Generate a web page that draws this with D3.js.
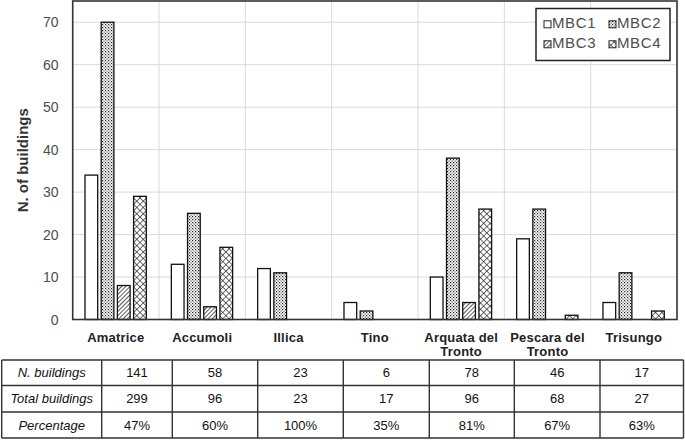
<!DOCTYPE html>
<html>
<head>
<meta charset="utf-8">
<script src="https://cdn.jsdelivr.net/npm/d3@7"></script>
<style>
  body { margin: 0; background: #fff; }
  svg { display: block; font-family: "Liberation Sans", Arial, sans-serif; }
</style>
</head>
<body>
<svg width="685" height="440"></svg>
<script>
var categories = ["Amatrice", "Accumoli", "Illica", "Tino", "Arquata del Tronto", "Pescara del Tronto", "Trisungo"];
var series = ["MBC1", "MBC2", "MBC3", "MBC4"];
var mbc1 = [34, 13, 12, 4, 10, 19, 4];
var mbc2 = [70, 25, 11, 2, 38, 26, 11];
var mbc3 = [8, 3, 0, 0, 4, 0, 0];
var mbc4 = [29, 17, 0, 0, 26, 1, 2];
var yTicks = [0, 10, 20, 30, 40, 50, 60, 70];

var rowLabels = ["N. buildings", "Total buildings", "Percentage"];
var nBuildings = ["141", "58", "23", "6", "78", "46", "17"];
var totalBuildings = ["299", "96", "23", "17", "96", "68", "27"];
var percentage = ["47%", "60%", "100%", "35%", "81%", "67%", "63%"];

var values = [mbc1, mbc2, mbc3, mbc4];

var svg = d3.select("svg");
var defs = svg.append("defs");

// fill patterns
var p2 = defs.append("pattern").attr("id", "pat2").attr("patternUnits", "userSpaceOnUse")
    .attr("width", 3).attr("height", 3);
p2.append("rect").attr("width", 3).attr("height", 3).attr("fill", "#fff");
p2.append("rect").attr("x", 0).attr("y", 0).attr("width", 1.2).attr("height", 1.2).attr("fill", "#222");
p2.append("rect").attr("x", 1.5).attr("y", 1.5).attr("width", 1.2).attr("height", 1.2).attr("fill", "#555");

var p3 = defs.append("pattern").attr("id", "pat3").attr("patternUnits", "userSpaceOnUse")
    .attr("width", 3).attr("height", 3).attr("patternTransform", "rotate(45)");
p3.append("rect").attr("width", 3).attr("height", 3).attr("fill", "#fff");
p3.append("line").attr("x1", 0).attr("y1", 0).attr("x2", 0).attr("y2", 3)
    .attr("stroke", "#333").attr("stroke-width", 1.6);

var p4 = defs.append("pattern").attr("id", "pat4").attr("patternUnits", "userSpaceOnUse")
    .attr("width", 4.5).attr("height", 4.5).attr("patternTransform", "rotate(45)");
p4.append("rect").attr("width", 4.5).attr("height", 4.5).attr("fill", "#fff");
p4.append("line").attr("x1", 0).attr("y1", 0).attr("x2", 0).attr("y2", 4.5)
    .attr("stroke", "#222").attr("stroke-width", 1.3);
p4.append("line").attr("x1", 0).attr("y1", 0).attr("x2", 4.5).attr("y2", 0)
    .attr("stroke", "#222").attr("stroke-width", 1.3);

var fills = ["#fff", "url(#pat2)", "url(#pat3)", "url(#pat4)"];

var plotLeft = 72.7, plotRight = 677, plotTop = 1, plotBottom = 319.5;

var x0 = d3.scaleBand().domain(categories).range([plotLeft, plotRight]);
var x1 = d3.scaleBand().domain(series).range([12.3, 73.6]).paddingInner(0.216);
var y = d3.scaleLinear().domain([0, 75]).range([plotBottom, plotTop]);

// grid
svg.append("g").selectAll("line").data(yTicks).enter().append("line")
    .attr("x1", plotLeft).attr("x2", plotRight)
    .attr("y1", function(d) { return y(d); })
    .attr("y2", function(d) { return y(d); })
    .attr("stroke", "#d9d9d9").attr("stroke-width", 1);

svg.append("g").selectAll("line").data(categories.slice(1)).enter().append("line")
    .attr("x1", function(d) { return x0(d); })
    .attr("x2", function(d) { return x0(d); })
    .attr("y1", plotTop).attr("y2", plotBottom)
    .attr("stroke", "#d9d9d9").attr("stroke-width", 1);

// bars
var barData = [];
categories.forEach(function(c, i) {
    series.forEach(function(s, j) {
        if (values[j][i] > 0) barData.push({ cat: c, s: s, j: j, v: values[j][i] });
    });
});

svg.append("g").selectAll("rect").data(barData).enter().append("rect")
    .attr("x", function(d) { return x0(d.cat) + x1(d.s); })
    .attr("y", function(d) { return y(d.v); })
    .attr("width", x1.bandwidth())
    .attr("height", function(d) { return plotBottom - y(d.v); })
    .attr("fill", function(d) { return fills[d.j]; })
    .attr("stroke", "#111").attr("stroke-width", 1.3);

// frame
svg.append("rect").attr("x", plotLeft).attr("y", plotTop)
    .attr("width", plotRight - plotLeft).attr("height", plotBottom - plotTop)
    .attr("fill", "none").attr("stroke", "#333").attr("stroke-width", 1.6);

// y tick labels
svg.append("g").selectAll("text").data(yTicks).enter().append("text")
    .attr("x", 58.5)
    .attr("y", function(d) { return y(d) + 5; })
    .attr("text-anchor", "end")
    .attr("font-size", 14).attr("fill", "#4d4d4d")
    .text(function(d) { return d; });

svg.append("text")
    .attr("transform", "translate(28," + ((plotTop + plotBottom) / 2) + ") rotate(-90)")
    .attr("text-anchor", "middle")
    .attr("font-size", 15).attr("font-weight", "bold").attr("fill", "#333")
    .text("N. of buildings");

// category labels
var catLabels = svg.append("g").selectAll("text").data(categories).enter().append("text")
    .attr("text-anchor", "middle")
    .attr("font-size", 13).attr("font-weight", "bold").attr("fill", "#222")
    .attr("letter-spacing", 0.2);
catLabels.each(function(d) {
    var words = d.split(" ");
    var lines = words.length > 2 ? [words.slice(0, -1).join(" "), words[words.length - 1]] : [d];
    var t = d3.select(this);
    lines.forEach(function(l, k) {
        t.append("tspan")
            .attr("x", x0(d) + x0.bandwidth() / 2)
            .attr("y", 342 + k * 14)
            .text(l);
    });
});

// legend
var lg = svg.append("g");
lg.append("rect").attr("x", 536).attr("y", 8.5).attr("width", 134).attr("height", 52)
    .attr("fill", "#fff").attr("stroke", "#222").attr("stroke-width", 1.5);
series.forEach(function(s, j) {
    var lx = 544 + (j % 2) * 65;
    var ly = 28.3 + Math.floor(j / 2) * 20;
    lg.append("rect").attr("x", lx).attr("y", ly - 7.5).attr("width", 7).attr("height", 7)
        .attr("fill", fills[j]).attr("stroke", "#222").attr("stroke-width", 1);
    lg.append("text").attr("x", lx + 8).attr("y", ly)
        .attr("font-size", 15).attr("fill", "#4d4d4d").attr("letter-spacing", 0.6)
        .text(s);
});

// table
var colEdges = [1.7, 101.7, 172.3, 257.7, 343.3, 429.3, 514.3, 600, 683.5];
var rowEdges = [360, 385.5, 412, 438];
var tableRows = [nBuildings, totalBuildings, percentage];
var tg = svg.append("g");

rowEdges.forEach(function(ry) {
    tg.append("line").attr("x1", colEdges[0]).attr("x2", colEdges[colEdges.length - 1])
        .attr("y1", ry).attr("y2", ry).attr("stroke", "#333").attr("stroke-width", 1.4);
});
colEdges.forEach(function(cx) {
    tg.append("line").attr("x1", cx).attr("x2", cx)
        .attr("y1", rowEdges[0]).attr("y2", rowEdges[rowEdges.length - 1])
        .attr("stroke", "#333").attr("stroke-width", 1.4);
});

rowLabels.forEach(function(r, i) {
    var cy = (rowEdges[i] + rowEdges[i + 1]) / 2 + 4.7;
    tg.append("text").attr("x", (colEdges[0] + colEdges[1]) / 2).attr("y", cy)
        .attr("text-anchor", "middle").attr("font-size", 13).attr("font-style", "italic")
        .attr("fill", "#111").text(r);
    tableRows[i].forEach(function(v, k) {
        tg.append("text").attr("x", (colEdges[k + 1] + colEdges[k + 2]) / 2).attr("y", cy)
            .attr("text-anchor", "middle").attr("font-size", 13)
            .attr("fill", "#111").text(v);
    });
});
</script>
</body>
</html>
